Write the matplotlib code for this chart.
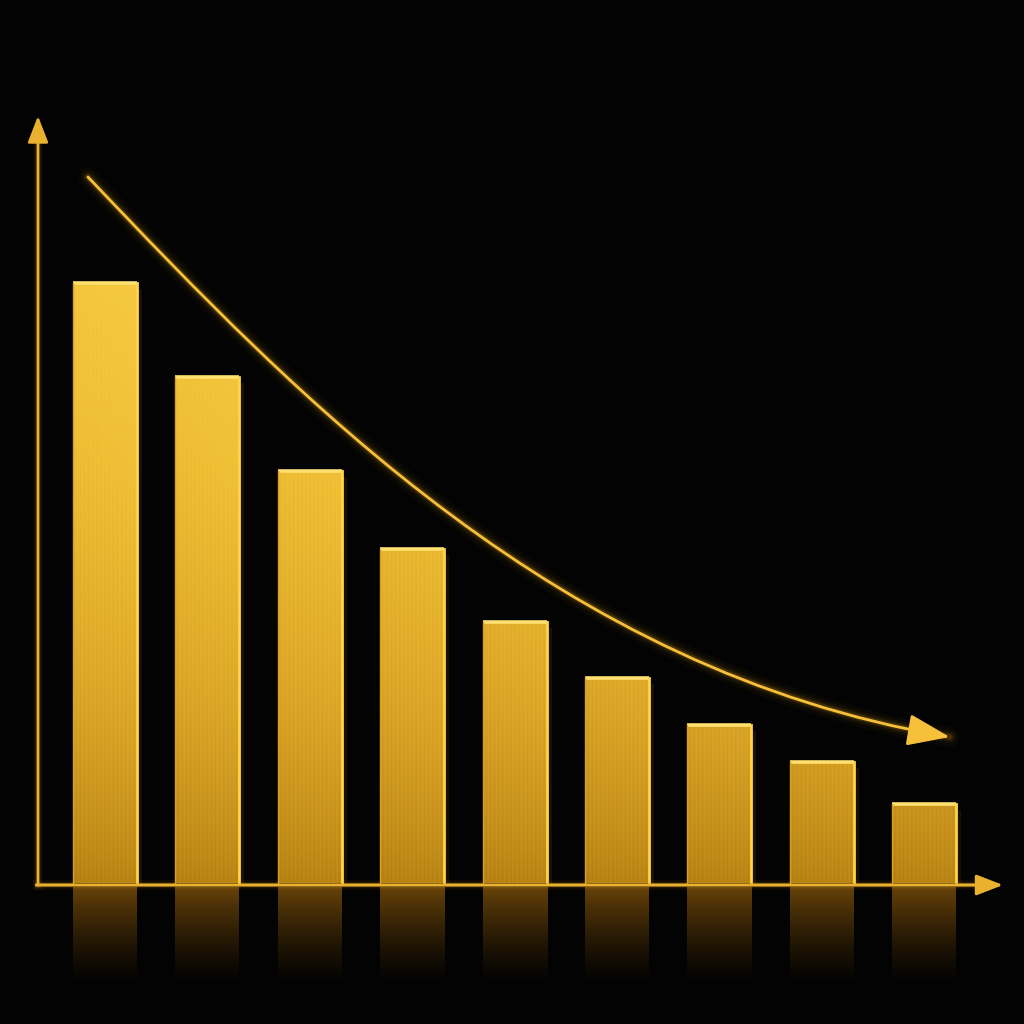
import numpy as np
import matplotlib
matplotlib.use("Agg")
import matplotlib.pyplot as plt
from matplotlib.colors import LinearSegmentedColormap
from matplotlib.patches import Rectangle, FancyArrowPatch
from matplotlib.path import Path

# bar data (heights, baseline = 0)
positions = np.arange(9)
heights = [600, 506, 412, 334, 261, 205, 158, 121, 79]
bar_width = 0.625

# decreasing trend arrow: start, two control points, end
trend_x = [-0.166, 1.904, 4.443, 8.25]
trend_y = [706, 483, 213, 146]

gold = "#e9b12e"
bg = "#030303"

fig = plt.figure(figsize=(10.24, 10.24), dpi=100, facecolor=bg)
ax = fig.add_axes([0, 0, 1, 1])
ax.set_facecolor(bg)
ax.set_xlim(-1.025, 8.975)
ax.set_ylim(-141, 883)
ax.axis("off")

# vertical gradient for the bars (bottom dark amber -> top bright gold)
bar_cmap = LinearSegmentedColormap.from_list(
    "gold", ["#8c5c08", "#b98414", "#dca628", "#efbf34", "#f6cb42"])

cols = np.linspace(0, 1, 240)
streaks = (0.04 * np.sin(cols * 97.0) + 0.035 * np.sin(cols * 233.0 + 1.3)
           + 0.03 * np.sin(cols * 411.0 + 0.7) + 0.025 * np.sin(cols * 677.0 + 2.1))
shade = 0.93 + 0.07 * cols  # slightly lighter toward right side

bars = ax.bar(positions, heights, width=bar_width, color="none",
              edgecolor="none", zorder=3)

for rect, h in zip(bars, heights):
    x0 = rect.get_x()
    w = rect.get_width()
    rows = np.linspace(0, 1, 200)[:, None]
    # value grows with height above baseline, anchored to full chart height
    frac = (rows * h) / 640.0
    val = np.clip(0.25 + 0.75 * frac ** 0.8, 0, 1)
    img = np.clip(val * shade[None, :] + streaks[None, :] * 0.8, 0, 1)
    im = ax.imshow(img, cmap=bar_cmap, vmin=0, vmax=1, origin="lower",
                   extent=[x0, x0 + w, 0, h], aspect="auto", zorder=3,
                   interpolation="bilinear")
    clip = Rectangle((x0, 0), w, h, transform=ax.transData)
    im.set_clip_path(clip)

    # edges: bright top and right, thin left
    ax.plot([x0, x0 + w], [h, h], color="#ffe070", lw=2.6, zorder=4,
            solid_capstyle="butt")
    ax.plot([x0 + w, x0 + w], [0, h], color="#ffd447", lw=2.0, zorder=4)
    ax.plot([x0, x0], [0, h], color="#d79d22", lw=1.0, zorder=4)
    # small dark side shadow on the right
    ax.add_patch(Rectangle((x0 + w, 0), 0.05, h - 6, color="#1a1002",
                           zorder=2, lw=0))

    # reflection on the floor
    refl = np.linspace(1, 0, 100)[:, None] ** 1.4 * np.ones((1, 40))
    rgba = np.zeros((100, 40, 4))
    rgba[..., 0] = 0.66
    rgba[..., 1] = 0.42
    rgba[..., 2] = 0.05
    rgba[..., 3] = 0.6 * refl
    ax.imshow(rgba, origin="upper", extent=[x0, x0 + w, -105, -4],
              aspect="auto", zorder=1, interpolation="bilinear")

# axes arrows
axis_style = "-|>,head_length=0.9,head_width=0.35"
for lw, a in [(7, 0.06), (4, 0.12)]:
    ax.plot([-0.654, -0.654], [-2, 750], color="#f0a818", lw=lw, alpha=a,
            zorder=4)
    ax.plot([-0.654, 8.6], [-2, -2], color="#f0a818", lw=lw, alpha=a,
            zorder=4)
ax.annotate("", xy=(-0.654, 767), xytext=(-0.654, -2),
            arrowprops=dict(arrowstyle=axis_style, color=gold, lw=2.0,
                            mutation_scale=18, shrinkA=0, shrinkB=0),
            zorder=5)
ax.annotate("", xy=(8.77, -2), xytext=(-0.67, -2),
            arrowprops=dict(arrowstyle=axis_style, color=gold, lw=2.2,
                            mutation_scale=18, shrinkA=0, shrinkB=0),
            zorder=5)

# trend curve with glow
verts = list(zip(trend_x, trend_y))
codes = [Path.MOVETO, Path.CURVE4, Path.CURVE4, Path.CURVE4]
trend_path = Path(verts, codes)
for lw, a in [(14, 0.03), (9, 0.05), (6, 0.08), (4, 0.15)]:
    ax.add_patch(FancyArrowPatch(path=trend_path, arrowstyle="-",
                                 color="#f0a818", lw=lw, alpha=a, zorder=5))
ax.add_patch(FancyArrowPatch(path=trend_path,
                             arrowstyle="-|>,head_length=0.8,head_width=0.3",
                             color="#f6c03a", lw=2.0, mutation_scale=33,
                             zorder=6))

fig.savefig("out.png", dpi=100, facecolor=bg)
